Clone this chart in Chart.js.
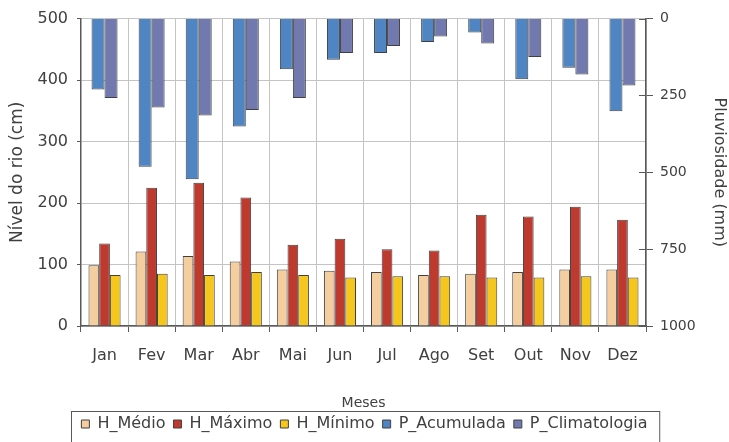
<!DOCTYPE html>
<html>
<head>
<meta charset="utf-8">
<script src="https://cdn.jsdelivr.net/npm/chart.js@4"></script>
<style>
  body { margin: 0; background: #fff; }
  #wrap { width: 729px; height: 442px; }
</style>
</head>
<body>
<div id="wrap"><canvas id="riverChart" width="729" height="442"></canvas></div>
<script>
// dados mensais
const months = ["Jan", "Fev", "Mar", "Abr", "Mai", "Jun", "Jul", "Ago", "Set", "Out", "Nov", "Dez"];
const hMedio = [99, 121, 114, 105, 92, 90, 88, 83, 85, 88, 92, 92];
const hMaximo = [134, 225, 233, 209, 132, 142, 125, 123, 181, 178, 194, 173];
const hMinimo = [83, 85, 83, 88, 83, 79, 81, 81, 79, 79, 81, 79];
const pAcumulada = [231, 482, 523, 351, 165, 134, 112, 76, 45, 197, 160, 301];
const pClimatologia = [258, 289, 315, 297, 258, 112, 89, 58, 81, 125, 182, 218];
const levelTicks = [0, 100, 200, 300, 400, 500];
const rainTicks = [0, 250, 500, 750, 1000];
const legendOrder = ["H_Médio", "H_Máximo", "H_Mínimo", "P_Acumulada", "P_Climatologia"];

const dark = "#595959";
const textColor = "#404040";
const font = "'DejaVu Sans', sans-serif";

// legend frame + inward ticks on the right axis
const extras = {
  id: "extras",
  afterDraw(chart) {
    const ctx = chart.ctx;
    const boxes = chart.legend.legendHitBoxes;
    if (boxes && boxes.length) {
      const left = Math.min(...boxes.map((b) => b.left)) - 10;
      const right = Math.max(...boxes.map((b) => b.left + b.width)) + 12;
      const top = boxes[0].top - 5;
      ctx.save();
      ctx.strokeStyle = dark;
      ctx.lineWidth = 1;
      ctx.strokeRect(Math.round(left) + 0.5, Math.round(top) + 0.5, right - left, 60);
      ctx.restore();
    }
    const y2 = chart.scales.y2;
    ctx.save();
    ctx.strokeStyle = dark;
    ctx.lineWidth = 1;
    y2.ticks.forEach((t) => {
      const py = Math.round(y2.getPixelForValue(t.value)) + 0.5;
      ctx.beginPath();
      ctx.moveTo(y2.left - 7, py);
      ctx.lineTo(y2.left, py);
      ctx.stroke();
    });
    ctx.restore();
  },
};

// one hidden category axis per dataset; Chart.js lays the axes side by side
// (5 slots per month), chunk size / bar width tuned so that the level bars
// (10.7px) and the rain bars (13px) are each centred on the month
const levelBar = { borderColor: "#404040", borderWidth: 1, yAxisID: "y", categoryPercentage: 0.568, barPercentage: 2 };
const rainBar = { borderColor: "#404040", borderWidth: 1, yAxisID: "y2", categoryPercentage: 0.69, barPercentage: 2 };

const chart = new Chart(document.getElementById("riverChart"), {
  type: "bar",
  data: {
    labels: months,
    datasets: [
      { label: "H_Médio", data: hMedio, backgroundColor: "#F4CE9E", xAxisID: "x0", ...levelBar },
      { label: "P_Acumulada", data: pAcumulada, backgroundColor: "#4F85C2", xAxisID: "x1", ...rainBar },
      { label: "H_Máximo", data: hMaximo, backgroundColor: "#BE3A2E", xAxisID: "x2", ...levelBar },
      { label: "P_Climatologia", data: pClimatologia, backgroundColor: "#7179AF", xAxisID: "x3", ...rainBar },
      { label: "H_Mínimo", data: hMinimo, backgroundColor: "#F5C61C", xAxisID: "x4", ...levelBar },
    ],
  },
  options: {
    responsive: false,
    animation: false,
    layout: { padding: { top: 17, left: 0, right: 0, bottom: 0 } },
    plugins: {
      tooltip: { enabled: false },
      legend: {
        position: "bottom",
        labels: {
          font: { family: font, size: 16 },
          color: textColor,
          boxWidth: 8,
          boxHeight: 8,
          padding: 8,
          sort: (a, b) => legendOrder.indexOf(a.text) - legendOrder.indexOf(b.text),
        },
      },
    },
    scales: {
      x: {
        type: "category",
        position: "bottom",
        offset: true,
        grid: { offset: true, color: "#c4c4c4", tickColor: dark, tickLength: 6 },
        border: { color: dark, width: 1.5 },
        ticks: { font: { family: font, size: 16 }, color: textColor, padding: 14 },
        title: {
          display: true,
          text: "Meses",
          font: { family: font, size: 14 },
          color: textColor,
          padding: { top: 0, bottom: -4 },
        },
        afterFit: (s) => { s.height = 116 - s.chart.legend.height; },
      },
      x0: { type: "category", display: false, offset: true, grid: { display: false } },
      x1: { type: "category", display: false, offset: true, grid: { display: false } },
      x2: { type: "category", display: false, offset: true, grid: { display: false } },
      x3: { type: "category", display: false, offset: true, grid: { display: false } },
      x4: { type: "category", display: false, offset: true, grid: { display: false } },
      y: {
        position: "left",
        min: 0,
        max: 500,
        afterBuildTicks: (s) => { s.ticks = levelTicks.map((v) => ({ value: v })); },
        grid: { color: "#c4c4c4", tickColor: dark, tickLength: 4 },
        border: { color: dark, width: 1.5 },
        ticks: { font: { family: font, size: 16 }, color: textColor, padding: 9 },
        title: {
          display: true,
          text: "Nível do rio (cm)",
          font: { family: font, size: 17 },
          color: textColor,
          padding: { top: 7, bottom: 0 },
        },
        afterFit: (s) => { s.width = 81; },
      },
      y2: {
        position: "right",
        reverse: true,
        min: 0,
        max: 1000,
        afterBuildTicks: (s) => { s.ticks = rainTicks.map((v) => ({ value: v })); },
        grid: { drawOnChartArea: false, tickColor: dark, tickLength: 7 },
        border: { color: dark, width: 1.5 },
        ticks: {
          font: { family: font, size: 14 },
          color: textColor,
          padding: 7,
          callback: (v) => String(v),
        },
        title: {
          display: true,
          text: "Pluviosidade (mm)",
          font: { family: font, size: 16 },
          color: textColor,
          padding: { top: 0, bottom: 0 },
        },
        afterFit: (s) => { s.width = 83; },
      },
    },
  },
  plugins: [extras],
});
</script>
</body>
</html>
